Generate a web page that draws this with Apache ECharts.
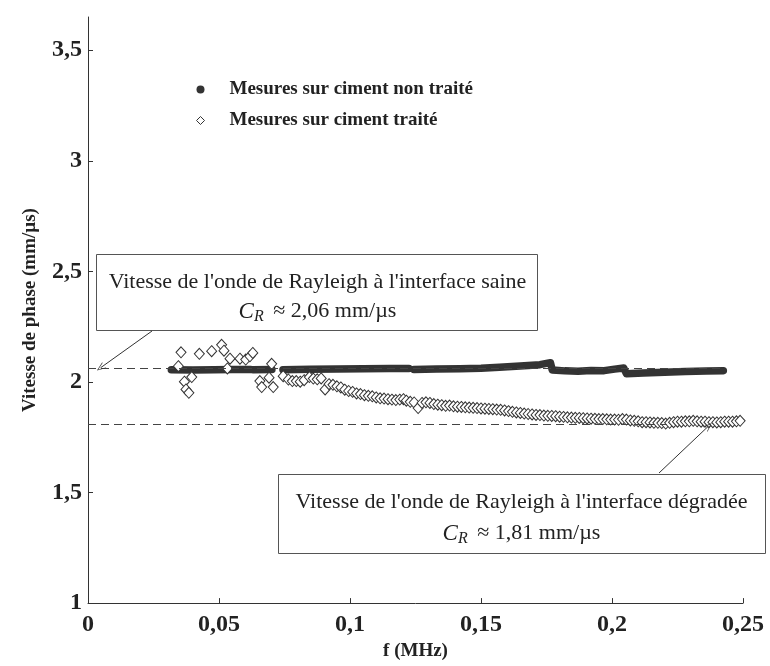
<!DOCTYPE html>
<html>
<head>
<meta charset="utf-8">
<script src="https://cdn.jsdelivr.net/npm/echarts@6/dist/echarts.min.js"></script>
<style>
  html, body { margin: 0; padding: 0; background: #fff; }
  #chart { width: 770px; height: 666px; }
</style>
</head>
<body>
<div id="chart"></div>
<script>
// Phase velocity versus frequency, untreated and treated cement
const xTicks = [0, 0.05, 0.1, 0.15, 0.2, 0.25];
const yTicks = [1, 1.5, 2, 2.5, 3, 3.5];

// Untreated cement: [f (MHz), phase velocity (mm/us)], '-' breaks the trace
const cimentNonTraite = [
  [0.0318, 2.055], [0.040, 2.054], [0.048, 2.055], [0.055, 2.056], [0.0621, 2.056], [0.0625, '-'],
  [0.0630, 2.055], [0.0702, 2.056], [0.0720, '-'],
  [0.0744, 2.055], [0.085, 2.057], [0.095, 2.058], [0.105, 2.060], [0.115, 2.061], [0.1225, 2.061], [0.1235, '-'],
  [0.1244, 2.056], [0.133, 2.058], [0.142, 2.060], [0.150, 2.062], [0.157, 2.066], [0.165, 2.072],
  [0.1725, 2.078], [0.1765, 2.087], [0.1772, 2.054], [0.182, 2.050], [0.187, 2.048], [0.192, 2.052],
  [0.197, 2.051], [0.201, 2.058], [0.2045, 2.063], [0.2055, 2.037], [0.212, 2.040], [0.220, 2.044],
  [0.228, 2.047], [0.236, 2.049], [0.2425, 2.051]
];

// Treated cement: [f (MHz), phase velocity (mm/us)]
const cimentTraite = [
  [0.0345, 2.071], [0.0355, 2.134], [0.0368, 2.001], [0.0374, 1.966], [0.0385, 1.951], [0.0396, 2.022],
  [0.0425, 2.127], [0.0472, 2.139], [0.0510, 2.168], [0.0519, 2.141], [0.0532, 2.061], [0.0542, 2.105],
  [0.0580, 2.105], [0.0602, 2.101], [0.0618, 2.116], [0.0629, 2.131], [0.0656, 2.004], [0.0663, 1.977],
  [0.0691, 2.019], [0.0701, 2.082], [0.0707, 1.977],
  [0.0745, 2.026], [0.0765, 2.011], [0.0780, 2.004], [0.0795, 2.004], [0.0810, 2.001], [0.0825, 2.008],
  [0.0845, 2.022], [0.0860, 2.015], [0.0875, 2.012], [0.0890, 2.016], [0.0905, 1.966], [0.0920, 1.990],
  [0.0935, 1.987], [0.0950, 1.980], [0.0965, 1.975], [0.0980, 1.965], [0.0995, 1.959], [0.1010, 1.955],
  [0.1025, 1.948], [0.1040, 1.945], [0.1055, 1.940], [0.1070, 1.937], [0.1085, 1.935], [0.1100, 1.930],
  [0.1115, 1.926], [0.1130, 1.925], [0.1145, 1.922], [0.1160, 1.920], [0.1175, 1.918], [0.1190, 1.920],
  [0.1204, 1.922], [0.1215, 1.915], [0.1230, 1.910], [0.1245, 1.907], [0.1260, 1.882], [0.1275, 1.905],
  [0.1290, 1.908], [0.1305, 1.905], [0.1320, 1.900], [0.1335, 1.897], [0.1350, 1.895], [0.1365, 1.892],
  [0.1380, 1.893], [0.1395, 1.890], [0.1410, 1.888], [0.1425, 1.887], [0.1440, 1.885], [0.1455, 1.884],
  [0.1470, 1.883], [0.1485, 1.882], [0.1500, 1.880], [0.1515, 1.879], [0.1530, 1.878], [0.1545, 1.877],
  [0.1560, 1.875], [0.1575, 1.874], [0.1590, 1.871], [0.1605, 1.868], [0.1620, 1.865], [0.1635, 1.862],
  [0.1650, 1.860], [0.1665, 1.857], [0.1680, 1.855], [0.1695, 1.853], [0.1710, 1.851], [0.1725, 1.850],
  [0.1740, 1.848], [0.1755, 1.847], [0.1770, 1.846], [0.1785, 1.845], [0.1800, 1.843], [0.1815, 1.842],
  [0.1830, 1.840], [0.1845, 1.839], [0.1860, 1.838], [0.1875, 1.837], [0.1890, 1.836], [0.1905, 1.835],
  [0.1920, 1.834], [0.1935, 1.833], [0.1950, 1.832], [0.1965, 1.832], [0.1980, 1.831], [0.1995, 1.830],
  [0.2010, 1.830], [0.2025, 1.829], [0.2040, 1.832], [0.2055, 1.830], [0.2070, 1.826], [0.2085, 1.824],
  [0.2100, 1.822], [0.2115, 1.818], [0.2130, 1.818], [0.2145, 1.817], [0.2160, 1.815], [0.2175, 1.815],
  [0.2190, 1.814], [0.2205, 1.812], [0.2220, 1.815], [0.2235, 1.818], [0.2250, 1.820], [0.2265, 1.820],
  [0.2280, 1.822], [0.2295, 1.822], [0.2310, 1.824], [0.2325, 1.822], [0.2340, 1.820], [0.2355, 1.820],
  [0.2370, 1.818], [0.2385, 1.818], [0.2400, 1.817], [0.2415, 1.818], [0.2430, 1.820], [0.2445, 1.820],
  [0.2460, 1.820], [0.2475, 1.822], [0.2489, 1.824]
];

// Rayleigh wave velocities (mm/us)
const vitesseSaine = 2.06;
const vitesseDegradee = 1.81;

const SERIF = 'Liberation Serif';
const INK = '#222';
const LINE = '#333';
const fmt = v => String(+v.toFixed(2)).replace('.', ',');
const vArrow = 'path://M5,0 L10,12 L9,12 L5,2.2 L1,12 L0,12 Z';
const crRich = {
  i: { fontFamily: SERIF, fontStyle: 'italic', fontSize: 23, fill: INK },
  s: { fontFamily: SERIF, fontStyle: 'italic', fontSize: 16, fill: INK, padding: [10, 4, 0, 0] }
};

const chart = echarts.init(document.getElementById('chart'), null, { renderer: 'canvas' });

chart.setOption({
  animation: false,
  backgroundColor: '#fff',
  grid: { left: 88, right: 27, top: 17, bottom: 59, containLabel: false },
  legend: {
    orient: 'vertical',
    left: 196,
    top: 80,
    padding: 0,
    itemWidth: 8,
    itemHeight: 8,
    itemGap: 12,
    selectedMode: false,
    textStyle: { fontFamily: SERIF, fontWeight: 'bold', fontSize: 19, color: INK, padding: [0, 0, 0, 20] },
    data: [
      { name: 'Mesures sur ciment non traité', icon: 'circle', itemStyle: { color: LINE, borderWidth: 0 } },
      { name: 'Mesures sur ciment traité', icon: 'diamond', itemStyle: { color: '#fff', borderColor: LINE, borderWidth: 1 } }
    ]
  },
  xAxis: {
    type: 'value',
    min: xTicks[0],
    max: xTicks[xTicks.length - 1],
    interval: 0.05,
    name: 'f (MHz)',
    nameLocation: 'middle',
    nameGap: 38,
    nameTextStyle: { fontFamily: SERIF, fontWeight: 'bold', fontSize: 19, color: INK },
    axisLine: { lineStyle: { color: LINE, width: 1 } },
    axisTick: { inside: true, length: 5, lineStyle: { color: LINE } },
    axisLabel: { margin: 10, fontFamily: SERIF, fontWeight: 'bold', fontSize: 24, color: INK, formatter: fmt },
    splitLine: { show: false }
  },
  yAxis: {
    type: 'value',
    min: yTicks[0],
    max: 3.65,
    interval: 0.5,
    name: 'Vitesse de phase (mm/µs)',
    nameLocation: 'middle',
    nameGap: 48,
    nameTextStyle: { fontFamily: SERIF, fontWeight: 'bold', fontSize: 19, color: INK },
    axisLine: { show: true, lineStyle: { color: LINE, width: 1 } },
    axisTick: { show: true, inside: true, length: 5, customValues: yTicks, lineStyle: { color: LINE } },
    axisLabel: { margin: 6, fontFamily: SERIF, fontWeight: 'bold', fontSize: 24, color: INK, customValues: yTicks, formatter: fmt },
    splitLine: { show: false }
  },
  series: [
    {
      name: 'repères',
      type: 'line',
      data: [],
      silent: true,
      markLine: {
        silent: true,
        symbol: ['none', 'none'],
        label: { show: false },
        lineStyle: { color: '#444', width: 1, type: [8, 5] },
        data: [
          [{ coord: [0, vitesseSaine] }, { coord: [0.2425, vitesseSaine] }],
          [{ coord: [0, vitesseDegradee] }, { coord: [0.221, vitesseDegradee] }],
          [
            { coord: [0.221, vitesseDegradee], lineStyle: { type: 'solid', width: 2.5, color: '#333' }, symbol: 'none' },
            { coord: [0.2515, vitesseDegradee], symbol: 'arrow', symbolSize: [9, 11] }
          ],
          [
            { x: 152, y: 331, lineStyle: { type: 'solid', width: 1, color: '#333' }, symbol: 'none' },
            { coord: [0.0048, vitesseSaine + 0.004], symbol: vArrow, symbolSize: [7, 9] }
          ],
          [
            { x: 659, y: 473, lineStyle: { type: 'solid', width: 1, color: '#333' }, symbol: 'none' },
            { coord: [0.2368, vitesseDegradee - 0.01], symbol: vArrow, symbolSize: [7, 9] }
          ]
        ]
      }
    },
    {
      name: 'Mesures sur ciment non traité',
      type: 'line',
      data: cimentNonTraite,
      showSymbol: false,
      connectNulls: false,
      z: 3,
      lineStyle: { color: LINE, width: 7.5, cap: 'round', join: 'round' },
      itemStyle: { color: LINE }
    },
    {
      name: 'Mesures sur ciment traité',
      type: 'scatter',
      data: cimentTraite,
      symbol: 'diamond',
      symbolSize: [10, 11],
      z: 4,
      itemStyle: { color: '#fff', borderColor: LINE, borderWidth: 1, opacity: 1 }
    }
  ],
  graphic: [
    {
      type: 'group',
      left: 96,
      top: 254,
      children: [
        { type: 'rect', shape: { x: 0, y: 0, width: 441, height: 76 }, style: { fill: '#fff', stroke: '#555', lineWidth: 1 } },
        {
          type: 'text', x: 221, y: 28,
          style: { text: "Vitesse de l'onde de Rayleigh à l'interface saine", fontFamily: SERIF, fontSize: 22, fill: INK, align: 'center', verticalAlign: 'middle' }
        },
        {
          type: 'text', x: 221, y: 57,
          style: { text: '{i|C}{s|R} ≈ 2,06 mm/µs', fontFamily: SERIF, fontSize: 22, fill: INK, align: 'center', verticalAlign: 'middle', rich: crRich }
        }
      ]
    },
    {
      type: 'group',
      left: 278,
      top: 474,
      children: [
        { type: 'rect', shape: { x: 0, y: 0, width: 487, height: 79 }, style: { fill: '#fff', stroke: '#555', lineWidth: 1 } },
        {
          type: 'text', x: 243, y: 28,
          style: { text: "Vitesse de l'onde de Rayleigh à l'interface dégradée", fontFamily: SERIF, fontSize: 22, fill: INK, align: 'center', verticalAlign: 'middle' }
        },
        {
          type: 'text', x: 243, y: 59,
          style: { text: '{i|C}{s|R} ≈ 1,81 mm/µs', fontFamily: SERIF, fontSize: 22, fill: INK, align: 'center', verticalAlign: 'middle', rich: crRich }
        }
      ]
    }
  ]
});
</script>
</body>
</html>
